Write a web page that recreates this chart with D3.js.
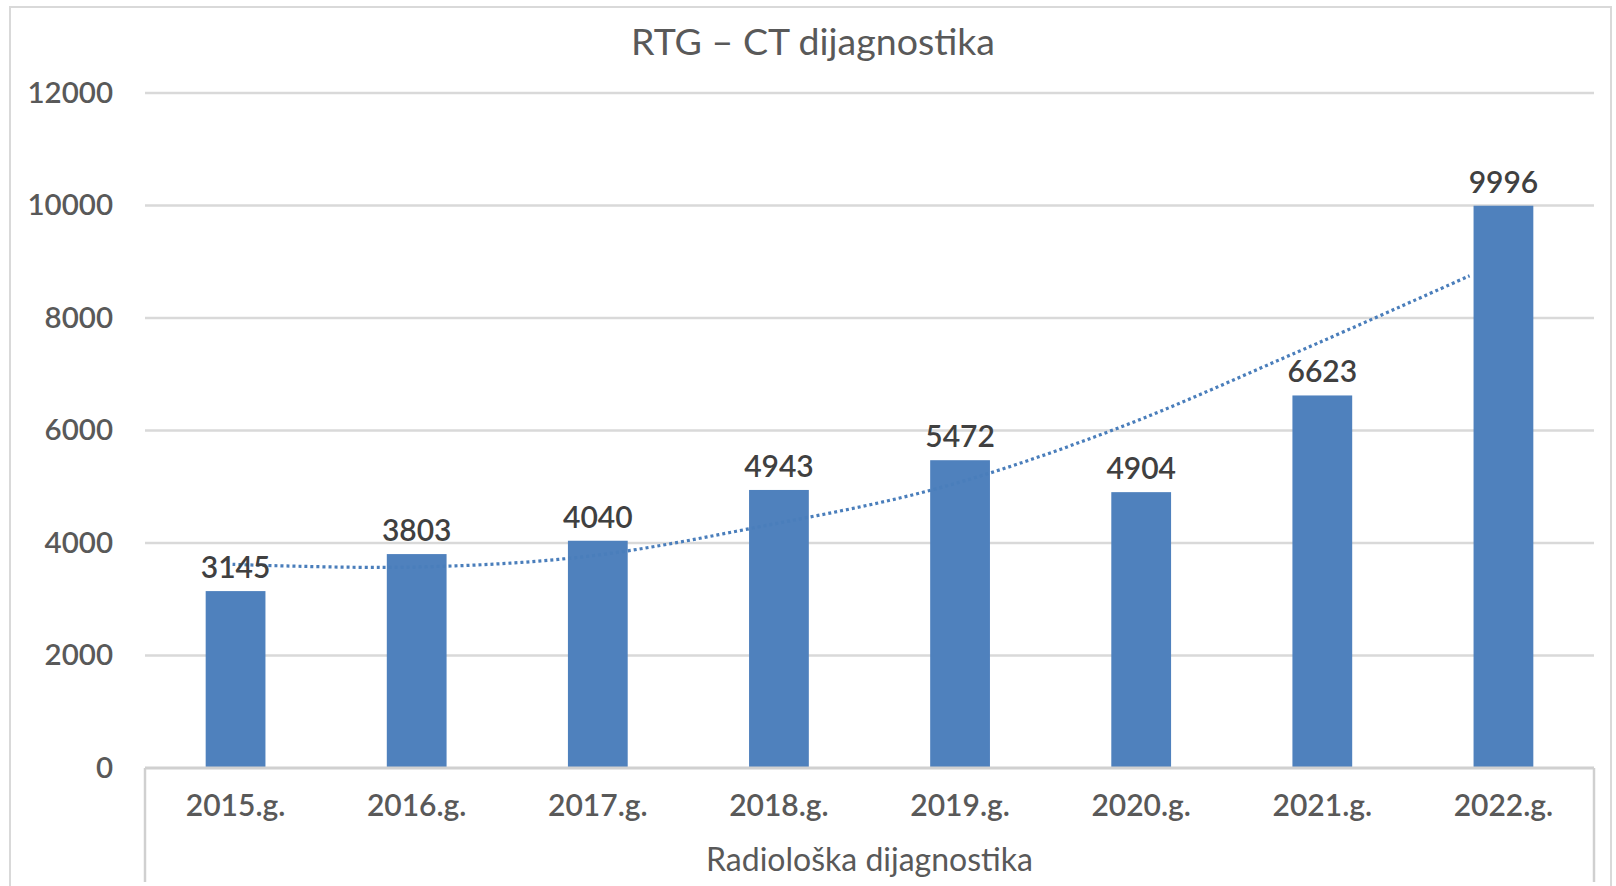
<!DOCTYPE html>
<html>
<head>
<meta charset="utf-8">
<script src="https://d3js.org/d3.v7.min.js"></script>
<style>
    body { margin: 0; padding: 0; background: #ffffff; }
    svg text { font-family: 'Lato', 'Open Sans', sans-serif; }
</style>
</head>
<body>
<div id="chart"></div>
<script>
    // values
    const years = ["2015.g.", "2016.g.", "2017.g.", "2018.g.", "2019.g.", "2020.g.", "2021.g.", "2022.g."];
    const counts = [3145, 3803, 4040, 4943, 5472, 4904, 6623, 9996];
    const trend = [3620, 3570, 3760, 4300, 4980, 6030, 7360, 8750];
    const yTicks = [0, 2000, 4000, 6000, 8000, 10000, 12000];

    const width = 1616, height = 886;
    const plotLeft = 145, plotRight = 1594, plotTop = 93, plotBottom = 768;

    let svg = d3.select("#chart").append("svg")
        .attr("width", width)
        .attr("height", height);

    // chart frame
    svg.append("rect")
        .attr("x", 10).attr("y", 7)
        .attr("width", 1601).attr("height", 900)
        .style("fill", "none")
        .style("stroke", "#d9d9d9")
        .style("stroke-width", 2);

    let x = d3.scaleBand().domain(years).range([plotLeft, plotRight]).paddingInner(0.67).paddingOuter(0.335);
    let y = d3.scaleLinear().domain([0, 12000]).range([plotBottom, plotTop]);

    // gridlines
    svg.append("g").selectAll("line")
        .data(yTicks.filter(function(d){ return d > 0; }))
        .enter().append("line")
        .attr("x1", plotLeft).attr("x2", plotRight)
        .attr("y1", function(d){ return y(d); })
        .attr("y2", function(d){ return y(d); })
        .style("stroke", "#d9d9d9")
        .style("stroke-width", 2.5);

    // y axis labels
    let yAxis = svg.append("g")
        .attr("transform", "translate(" + (plotLeft - 32) + ",0)")
        .call(d3.axisLeft(y).tickValues(yTicks).tickSize(0).tickPadding(0).tickFormat(d3.format("d")));
    yAxis.select(".domain").remove();
    yAxis.selectAll("text")
        .style("font-size", "29.5px")
        .style("font-weight", "600")
        .style("fill", "#595959");

    // bars
    svg.append("g").selectAll("rect")
        .data(counts)
        .enter().append("rect")
        .attr("x", function(d, i){ return x(years[i]); })
        .attr("y", function(d){ return y(d); })
        .attr("width", x.bandwidth())
        .attr("height", function(d){ return plotBottom - y(d); })
        .style("fill", "#4f81bd");

    // baseline and category box
    svg.append("line")
        .attr("x1", plotLeft).attr("x2", plotRight)
        .attr("y1", plotBottom).attr("y2", plotBottom)
        .style("stroke", "#d0d0d0").style("stroke-width", 3);
    svg.selectAll(".catbox")
        .data([plotLeft, plotRight])
        .enter().append("line")
        .attr("class", "catbox")
        .attr("x1", function(d){ return d; }).attr("x2", function(d){ return d; })
        .attr("y1", plotBottom).attr("y2", 882)
        .style("stroke", "#d0d0d0").style("stroke-width", 2.5);

    // trendline (drawn slightly compressed as in the reference)
    let tx = d3.scaleLinear().domain([0, years.length - 1])
        .range([x(years[0]) + x.bandwidth() / 2 - 3, x(years[years.length - 1]) - 4]);
    let line = d3.line()
        .x(function(d, i){ return tx(i); })
        .y(function(d){ return y(d); })
        .curve(d3.curveCatmullRom);
    svg.append("path")
        .datum(trend)
        .attr("d", line)
        .style("fill", "none")
        .style("stroke", "#4a7ebb")
        .style("stroke-width", 3.2)
        .style("stroke-dasharray", "3,3");

    // data labels
    svg.append("g").selectAll("text")
        .data(counts)
        .enter().append("text")
        .attr("x", function(d, i){ return x(years[i]) + x.bandwidth() / 2; })
        .attr("y", function(d){ return y(d) - 13; })
        .attr("text-anchor", "middle")
        .style("font-size", "30px")
        .style("font-weight", "600")
        .style("fill", "#404040")
        .text(function(d){ return d; });

    // category labels
    svg.append("g").selectAll("text")
        .data(years)
        .enter().append("text")
        .attr("x", function(d){ return x(d) + x.bandwidth() / 2; })
        .attr("y", 816)
        .attr("text-anchor", "middle")
        .style("font-size", "30px")
        .style("font-weight", "600")
        .style("fill", "#595959")
        .text(function(d){ return d; });

    // axis title
    svg.append("text")
        .attr("x", (plotLeft + plotRight) / 2)
        .attr("y", 871)
        .attr("text-anchor", "middle")
        .style("font-size", "32px")
        .style("fill", "#595959")
        .text("Radiološka dijagnostika");

    // chart title
    svg.append("text")
        .attr("x", 813)
        .attr("y", 55)
        .attr("text-anchor", "middle")
        .style("font-size", "37.5px")
        .style("fill", "#595959")
        .text("RTG – CT dijagnostika");
</script>
</body>
</html>
